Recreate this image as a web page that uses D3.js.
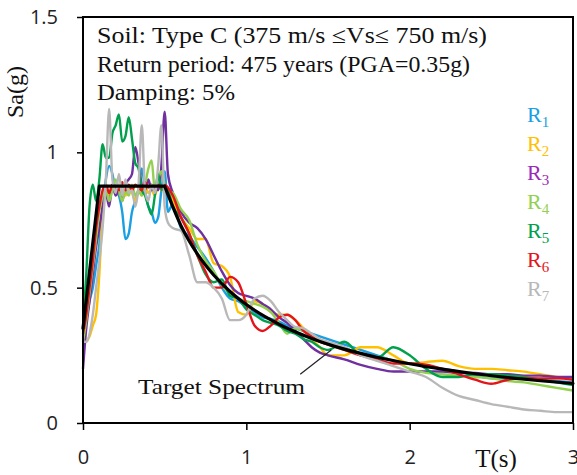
<!DOCTYPE html>
<html lang="en">
<head>
    <meta charset="UTF-8">
    <title>Response spectra</title>
    <script src="https://cdnjs.cloudflare.com/ajax/libs/d3/7.8.5/d3.min.js"></script>
    <style>
        body { margin: 0; background: #fff; }
        .tick-label { font-family: "Open Sans", sans-serif; font-size: 20px; fill: #222; }
        .serif { font-family: "Liberation Serif", "DejaVu Serif", serif; fill: #111; }
    </style>
</head>
<body>
<script>
    // period grid (s) shared by all records
    const periods = [0, 0.02, 0.04, 0.06, 0.08, 0.10, 0.12, 0.14, 0.16, 0.18, 0.20, 0.22, 0.24, 0.26, 0.28,
        0.30, 0.32, 0.34, 0.36, 0.38, 0.40, 0.42, 0.44, 0.46, 0.48, 0.50, 0.52, 0.55,
        0.6, 0.65, 0.7, 0.75, 0.8, 0.85, 0.9, 0.95, 1.0, 1.05, 1.1, 1.15, 1.2, 1.25, 1.3, 1.35, 1.4, 1.45, 1.5,
        1.6, 1.7, 1.8, 1.9, 2.0, 2.1, 2.2, 2.3, 2.4, 2.5, 2.6, 2.7, 2.8, 2.9, 3.0]

    const r1 = [0.32, 0.38, 0.45, 0.50, 0.58, 0.66, 0.80, 0.90, 0.95, 0.92, 0.86, 0.84, 0.78, 0.68, 0.70,
        0.78, 0.82, 0.86, 0.94, 0.86, 0.80, 0.78, 0.74, 0.76, 0.86, 0.93, 0.78, 0.81,
        0.72, 0.69, 0.65, 0.61, 0.56, 0.50, 0.46, 0.45, 0.43, 0.41, 0.39, 0.385, 0.375, 0.36, 0.35, 0.34, 0.33, 0.32, 0.31,
        0.29, 0.27, 0.25, 0.23, 0.22, 0.21, 0.20, 0.19, 0.175, 0.165, 0.165, 0.165, 0.16, 0.155, 0.15]
    const r2 = [0.30, 0.30, 0.32, 0.36, 0.40, 0.55, 0.78, 0.85, 0.84, 0.88, 0.86, 0.85, 0.88, 0.84, 0.87,
        0.85, 0.82, 0.86, 0.84, 0.88, 0.85, 0.86, 0.84, 0.88, 0.86, 0.88, 0.86, 0.82,
        0.76, 0.72, 0.68, 0.68, 0.59, 0.58, 0.54, 0.41, 0.40, 0.45, 0.44, 0.41, 0.40, 0.40, 0.38, 0.35, 0.31, 0.28, 0.25,
        0.25, 0.28, 0.28, 0.25, 0.22, 0.225, 0.23, 0.21, 0.20, 0.20, 0.195, 0.19, 0.18, 0.17, 0.165]
    const r3 = [0.20, 0.35, 0.45, 0.55, 0.65, 0.72, 0.80, 0.85, 0.80, 0.88, 0.84, 0.86, 0.82, 0.88, 0.90,
        0.92, 1.02, 0.96, 0.88, 0.86, 0.90, 0.86, 0.88, 0.86, 0.95, 1.15, 0.92, 0.85,
        0.78, 0.74, 0.72, 0.68, 0.62, 0.56, 0.51, 0.48, 0.47, 0.46, 0.44, 0.42, 0.39, 0.37, 0.34, 0.31, 0.28, 0.26, 0.25,
        0.235, 0.215, 0.20, 0.19, 0.19, 0.19, 0.19, 0.185, 0.185, 0.18, 0.18, 0.175, 0.175, 0.17, 0.17]
    const r4 = [0.30, 0.38, 0.48, 0.58, 0.68, 0.78, 0.84, 0.86, 0.82, 0.86, 0.90, 0.86, 0.82, 0.86, 0.84,
        0.88, 0.84, 0.86, 0.84, 0.88, 0.94, 0.97, 0.86, 0.90, 0.93, 0.88, 0.86, 0.85,
        0.79, 0.75, 0.66, 0.60, 0.56, 0.51, 0.48, 0.46, 0.45, 0.44, 0.43, 0.41, 0.37, 0.33, 0.35, 0.34, 0.32, 0.30, 0.29,
        0.27, 0.255, 0.245, 0.23, 0.20, 0.185, 0.18, 0.175, 0.17, 0.165, 0.155, 0.15, 0.14, 0.13, 0.12]
    const r5 = [0.35, 0.55, 0.80, 0.88, 0.82, 0.90, 1.03, 0.98, 0.98, 1.07, 1.10, 1.14, 1.04, 1.06, 1.13,
        1.05, 0.96, 0.94, 0.86, 0.84, 0.80, 0.77, 0.84, 0.92, 0.86, 0.88, 0.86, 0.80,
        0.76, 0.70, 0.62, 0.55, 0.52, 0.53, 0.47, 0.46, 0.42, 0.40, 0.38, 0.37, 0.36, 0.34, 0.33, 0.31, 0.30, 0.28, 0.27,
        0.30, 0.25, 0.24, 0.28, 0.25, 0.20, 0.17, 0.17, 0.18, 0.18, 0.175, 0.17, 0.16, 0.15, 0.14]
    const r6 = [0.33, 0.40, 0.50, 0.60, 0.72, 0.80, 0.86, 0.88, 0.85, 0.88, 0.87, 0.86, 0.89, 0.86, 0.88,
        0.86, 0.88, 0.87, 0.86, 0.89, 0.87, 0.88, 0.86, 0.88, 0.87, 0.88, 0.87, 0.84,
        0.76, 0.70, 0.62, 0.56, 0.50, 0.50, 0.54, 0.52, 0.44, 0.36, 0.34, 0.36, 0.39, 0.40, 0.38, 0.34, 0.32, 0.30, 0.29,
        0.27, 0.25, 0.235, 0.22, 0.22, 0.215, 0.20, 0.18, 0.16, 0.145, 0.16, 0.165, 0.165, 0.165, 0.16]
    const r7 = [0.30, 0.30, 0.33, 0.40, 0.50, 0.60, 0.72, 0.90, 1.16, 0.90, 0.85, 0.92, 0.84, 0.90, 0.85,
        0.86, 0.80, 0.88, 1.10, 0.86, 0.82, 0.88, 0.85, 0.95, 1.10, 0.80, 0.74, 0.72,
        0.71, 0.62, 0.52, 0.52, 0.50, 0.46, 0.38, 0.38, 0.40, 0.46, 0.47, 0.45, 0.41, 0.38, 0.355, 0.35, 0.33, 0.31, 0.30,
        0.28, 0.25, 0.23, 0.21, 0.19, 0.17, 0.13, 0.10, 0.085, 0.07, 0.06, 0.05, 0.045, 0.04, 0.04]

    // target (design) spectrum: straight ramp + plateau, then the 1/T branch
    const rampT = [0, 0.1, 0.5]
    const rampSa = [0.35, 0.875, 0.875]
    const decayT = [0.5, 0.6, 0.7, 0.8, 0.9, 1.0, 1.2, 1.4, 1.6, 1.8, 2.0, 2.2, 2.4, 2.6, 2.8, 3.0]
    const decaySa = [0.875, 0.729, 0.625, 0.547, 0.486, 0.4375, 0.365, 0.3125, 0.273, 0.243, 0.219, 0.199, 0.182, 0.168, 0.156, 0.146]

    const recordNames = ['R1', 'R2', 'R3', 'R4', 'R5', 'R6', 'R7']
    const recordColors = ['#1a9fe2', '#ffc000', '#7030a0', '#92d050', '#00a04c', '#e3151b', '#b8b8b8']
    const xTicks = [0, 1, 2, 3]
    const yTicks = [0, 0.5, 1, 1.5]
    const infoLines = ['Soil: Type C (375 m/s \u2264Vs\u2264 750 m/s)', 'Return period: 475 years (PGA=0.35g)', 'Damping: 5%']
    const infoWidths = [390, 373, 138]

    const width = 577, height = 475
    const margin = {top: 17, right: 4, bottom: 52, left: 83}

    const svg = d3.select('body').append('svg')
        .attr('width', width)
        .attr('height', height)

    const x = d3.scaleLinear().domain([0, 3]).range([margin.left, width - margin.right])
    const y = d3.scaleLinear().domain([0, 1.5]).range([height - margin.bottom, margin.top])

    // records
    const line = d3.line()
        .x(d => x(d[0]))
        .y(d => y(d[1]))
        .curve(d3.curveMonotoneX)

    const records = [r1, r2, r3, r4, r5, r6, r7]
    svg.append('g').attr('class', 'records')
        .selectAll('path')
        .data(records)
        .enter().append('path')
        .attr('d', vals => line(periods.map((t, i) => [t, vals[i]])))
        .attr('fill', 'none')
        .attr('stroke', (d, i) => recordColors[i])
        .attr('stroke-width', 2.4)
        .attr('stroke-linejoin', 'round')

    // target
    const rampLine = d3.line().x(d => x(d[0])).y(d => y(d[1]))
    const tg = svg.append('g').attr('class', 'target')
    tg.append('path')
        .attr('d', rampLine(rampT.map((t, i) => [t, rampSa[i]])))
    tg.append('path')
        .attr('d', line(decayT.map((t, i) => [t, decaySa[i]])))
    tg.selectAll('path')
        .attr('fill', 'none')
        .attr('stroke', '#000')
        .attr('stroke-width', 3.2)
        .attr('stroke-linejoin', 'round')
        .attr('stroke-linecap', 'round')

    // frame + axes
    const x0 = x.range()[0], x1 = x.range()[1], y0 = y.range()[0], y1 = y.range()[1]
    svg.append('rect')
        .attr('x', x0).attr('y', y1)
        .attr('width', x1 - x0).attr('height', y0 - y1)
        .attr('fill', 'none').attr('stroke', '#000').attr('stroke-width', 2)

    const xAxis = d3.axisBottom(x).tickValues(xTicks).tickFormat(d3.format('d')).tickSize(7).tickPadding(20)
    const gx = svg.append('g').attr('transform', `translate(0,${y0})`).call(xAxis)
    gx.select('.domain').remove()
    gx.selectAll('line').attr('stroke', '#000').attr('stroke-width', 1.5)
    gx.selectAll('text').attr('class', 'tick-label').attr('font-size', null).attr('font-family', null)

    const yAxis = d3.axisLeft(y).tickValues(yTicks).tickFormat(d => d).tickSize(6).tickPadding(19)
    const gy = svg.append('g').attr('transform', `translate(${x0},0)`).call(yAxis)
    gy.select('.domain').remove()
    gy.selectAll('line').attr('stroke', '#000').attr('stroke-width', 1.5)
    gy.selectAll('text').attr('class', 'tick-label').attr('font-size', null).attr('font-family', null)

    // axis titles
    svg.append('text').attr('class', 'serif')
        .attr('transform', 'translate(23,92) rotate(-90)')
        .attr('text-anchor', 'middle')
        .attr('font-size', 24)
        .text('Sa(g)')
    svg.append('text').attr('class', 'serif')
        .attr('x', 496).attr('y', 467)
        .attr('text-anchor', 'middle')
        .attr('font-size', 25)
        .text('T(s)')

    // info text
    svg.append('g').selectAll('text')
        .data(infoLines)
        .enter().append('text')
        .attr('class', 'serif')
        .attr('x', 97)
        .attr('y', (d, i) => 43 + i * 28.5)
        .attr('font-size', 22.5)
        .attr('textLength', (d, i) => infoWidths[i])
        .attr('lengthAdjust', 'spacingAndGlyphs')
        .text(d => d)

    // legend
    const leg = svg.append('g').selectAll('text')
        .data(recordNames)
        .enter().append('text')
        .attr('class', 'serif')
        .attr('x', 527)
        .attr('y', (d, i) => 122 + i * 29)
        .attr('font-size', 22)
        .style('fill', (d, i) => recordColors[i] === '#7030a0' ? '#9a2ab8' : recordColors[i])
    leg.append('tspan').text(d => d[0])
    leg.append('tspan').attr('dy', 5).attr('font-size', 15).text(d => d.slice(1))

    // target label + pointer
    svg.append('text').attr('class', 'serif')
        .attr('x', 138).attr('y', 394)
        .attr('font-size', 22)
        .attr('textLength', 167)
        .attr('lengthAdjust', 'spacingAndGlyphs')
        .text('Target Spectrum')
    svg.append('line')
        .attr('x1', x(1.33)).attr('y1', y(0.18))
        .attr('x2', x(1.52)).attr('y2', y(0.27))
        .attr('stroke', '#222').attr('stroke-width', 1.2)
</script>
</body>
</html>
